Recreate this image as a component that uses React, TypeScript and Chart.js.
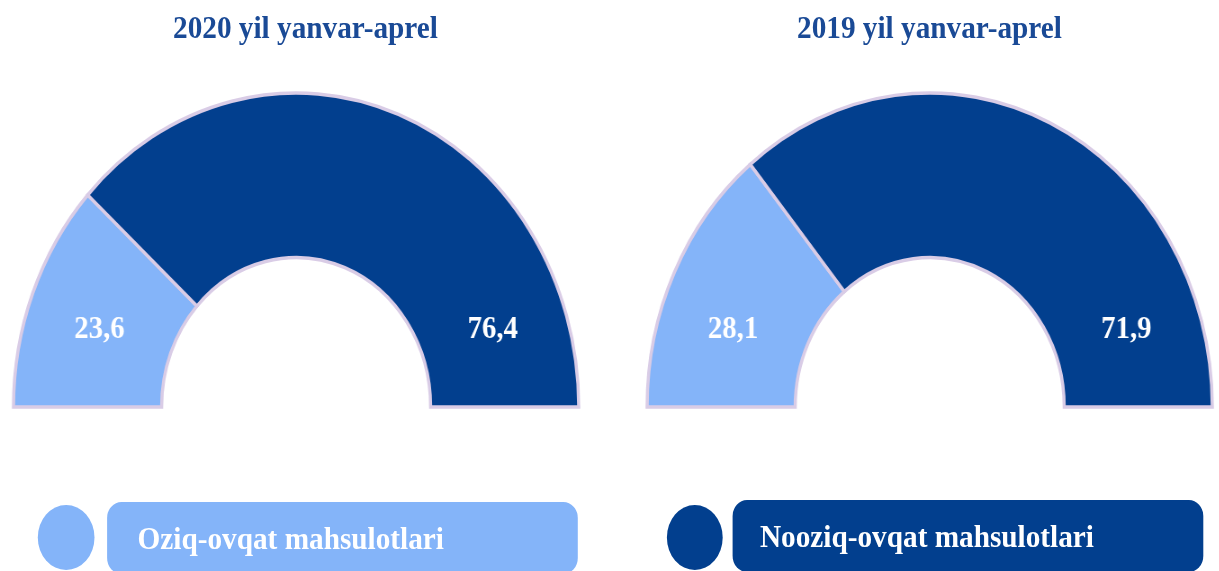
import React, { useEffect, useRef } from "react";
import { Chart, registerables } from "chart.js";

Chart.register(...registerables);

// ---- data ----
const categories = ["Oziq-ovqat mahsulotlari", "Nooziq-ovqat mahsulotlari"];
const periods = ["2020 yil yanvar-aprel", "2019 yil yanvar-aprel"];
const values2020 = [23.6, 76.4];
const values2019 = [28.1, 71.9];

// ---- style ----
const LIGHT = "#84B4F9";
const DARK = "#023F8E";
const BORDER = "#D9CCE6";
const TITLE_COLOR = "#1A4A96";
const FONT = '"Liberation Serif", "Times New Roman", serif';
const SX = 0.9; // horizontal squeeze of the whole picture
const VIEW_W = 1219;
const VIEW_H = 571;

const R = 314;
const BW = 3.5;
const CY = 406.5;
const LABEL_ANGLE = 19.5; // degrees in from the baseline end of each slice

const fmt = (v: number) => v.toFixed(1).replace(".", ",");

const arcLabelPlugin = {
  id: "arcLabels",
  afterDatasetsDraw(chart: any) {
    const meta = chart.getDatasetMeta(0);
    const data = chart.data.datasets[0].data as number[];
    const ctx = chart.ctx as CanvasRenderingContext2D;
    ctx.save();
    ctx.font = `bold 32px ${FONT}`;
    ctx.fillStyle = "#FFFFFF";
    ctx.textAlign = "center";
    ctx.textBaseline = "middle";
    const off = (LABEL_ANGLE * Math.PI) / 180;
    meta.data.forEach((arc: any, i: number) => {
      const p = arc.getProps(["x", "y", "startAngle", "endAngle", "innerRadius", "outerRadius"], true);
      const r = (p.innerRadius + p.outerRadius) / 2;
      const ang = i === 0 ? p.startAngle + off : p.endAngle - off;
      ctx.fillText(fmt(data[i]), p.x + r * Math.cos(ang), p.y + r * Math.sin(ang));
    });
    ctx.restore();
  },
};

function HalfDoughnut({ values, cx }: { values: number[]; cx: number }) {
  const ref = useRef<HTMLCanvasElement | null>(null);
  const w = Math.ceil(2 * R + BW);
  const h = Math.ceil(R + BW);
  useEffect(() => {
    if (!ref.current) return;
    const chart = new Chart(ref.current, {
      type: "doughnut",
      data: {
        labels: categories,
        datasets: [
          {
            data: values,
            backgroundColor: [LIGHT, DARK],
            borderColor: BORDER,
            borderWidth: BW,
            hoverBorderWidth: BW,
            borderJoinStyle: "miter",
          } as any,
        ],
      },
      options: {
        animation: false,
        responsive: false,
        maintainAspectRatio: false,
        events: [],
        rotation: -90,
        circumference: 180,
        cutout: "47.6%",
        radius: R,
        layout: { padding: 0 },
        plugins: {
          legend: { display: false },
          tooltip: { enabled: false },
          title: { display: false },
        },
      } as any,
      plugins: [arcLabelPlugin as any],
    });
    return () => chart.destroy();
  }, [values]);
  return (
    <canvas
      ref={ref}
      width={w}
      height={h}
      style={{
        position: "absolute",
        left: cx - w / 2,
        top: CY - (h - (h - R - BW / 2)) ,
        width: w,
        height: h,
      }}
    />
  );
}

function Title({ text, cx }: { text: string; cx: number }) {
  return (
    <div
      style={{
        position: "absolute",
        left: cx - 300,
        width: 600,
        top: 11,
        lineHeight: "32px",
        textAlign: "center",
        fontFamily: FONT,
        fontWeight: "bold",
        fontSize: 32.5,
        color: TITLE_COLOR,
        whiteSpace: "nowrap",
      }}
    >
      {text}
    </div>
  );
}

function LegendItem({
  label,
  color,
  dotLeft,
  dotSize,
  boxLeft,
  boxWidth,
  boxTop,
  padLeft,
}: {
  label: string;
  color: string;
  dotLeft: number;
  dotSize: number;
  boxLeft: number;
  boxWidth: number;
  boxTop: number;
  padLeft: number;
}) {
  return (
    <>
      <div
        style={{
          position: "absolute",
          left: dotLeft,
          top: 505,
          width: dotSize,
          height: 65,
          borderRadius: "50%",
          background: color,
        }}
      />
      <div
        style={{
          position: "absolute",
          left: boxLeft,
          top: boxTop,
          width: boxWidth,
          height: 72,
          borderRadius: 16,
          background: color,
          display: "flex",
          alignItems: "center",
          paddingLeft: padLeft,
          boxSizing: "border-box",
          fontFamily: FONT,
          fontWeight: "bold",
          fontSize: 32.5,
          color: "#FFFFFF",
          whiteSpace: "nowrap",
        }}
      >
        {label}
      </div>
    </>
  );
}

export default function App() {
  const cxLeft = 296 / SX;
  const cxRight = 930 / SX;
  return (
    <div
      style={{
        position: "fixed",
        left: 0,
        top: 0,
        width: VIEW_W,
        height: VIEW_H,
        overflow: "hidden",
        background: "#FFFFFF",
      }}
    >
      <div
        style={{
          position: "absolute",
          left: 0,
          top: 0,
          width: VIEW_W / SX,
          height: VIEW_H,
          transform: `scaleX(${SX})`,
          transformOrigin: "0 0",
        }}
      >
        <Title text={periods[0]} cx={305.5 / SX} />
        <Title text={periods[1]} cx={929.5 / SX} />
        <HalfDoughnut values={values2020} cx={cxLeft} />
        <HalfDoughnut values={values2019} cx={cxRight} />
        <LegendItem
          label={categories[0]}
          color={LIGHT}
          dotLeft={38 / SX}
          dotSize={63}
          boxLeft={107 / SX}
          boxWidth={(578 - 107) / SX}
          boxTop={502}
          padLeft={34}
        />
        <LegendItem
          label={categories[1]}
          color={DARK}
          dotLeft={667 / SX}
          dotSize={62}
          boxLeft={733 / SX}
          boxWidth={(1203 - 733) / SX}
          boxTop={500}
          padLeft={30}
        />
      </div>
    </div>
  );
}
